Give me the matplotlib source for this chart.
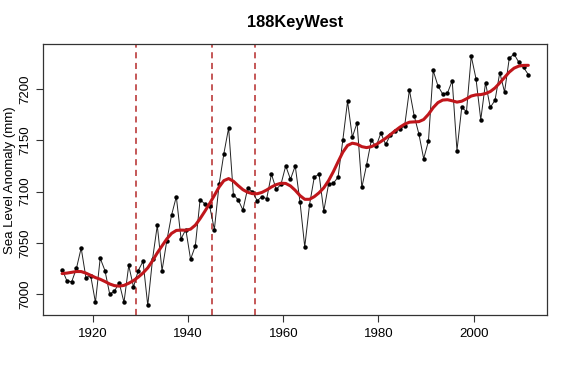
import numpy as np
import matplotlib
matplotlib.use("Agg")
import matplotlib.pyplot as plt

plt.rcParams['font.family'] = ['Liberation Sans', 'DejaVu Sans']

years = list(range(1913, 2012))
sea_level = [
    7024, 7013, 7012, 7025, 7045, 7016, 7018, 6992, 7035, 7023,
    7000, 7003, 7011, 6992, 7028, 7007, 7023, 7032, 6989, 7034,
    7067, 7023, 7052, 7077, 7095, 7054, 7063, 7034, 7047, 7092,
    7088, 7086, 7063, 7107, 7137, 7162, 7097, 7092, 7082, 7103,
    7100, 7091, 7095, 7093, 7117, 7102, 7107, 7125, 7112, 7125,
    7090, 7046, 7087, 7114, 7117, 7081, 7107, 7108, 7114, 7150,
    7188, 7153, 7167, 7104, 7126, 7150, 7144, 7157, 7146, 7155,
    7159, 7161, 7164, 7199, 7174, 7156, 7132, 7149, 7218, 7203,
    7195, 7196, 7208, 7140, 7182, 7178, 7232, 7210, 7170, 7206,
    7182, 7189, 7216, 7197, 7230, 7234, 7226, 7221, 7214,
]
breakpoints = [1929, 1945, 1954]
x_ticks = [1920, 1940, 1960, 1980, 2000]
y_ticks = [7000, 7050, 7100, 7150, 7200]
title = "188KeyWest"
ylabel = "Sea Level Anomaly (mm)"

t = np.array(years, dtype=float) + 0.5
y = np.array(sea_level, dtype=float)

# Whittaker (penalised) smoother of the series
n = len(y)
D = np.diff(np.eye(n), 2, axis=0)
lam = 15.0
smooth = np.linalg.solve(np.eye(n) + lam * D.T @ D, y)

fig = plt.figure(figsize=(5.70, 3.68), dpi=100)
ax = fig.add_axes([0.0763, 0.1427, 0.8833, 0.7377])

ax.plot(t, y, color='#222222', lw=0.7, zorder=2)
ax.plot(t, y, 'o', color='black', ms=2.2, zorder=3)
ax.plot(t, smooth, color='#c0161b', lw=2.2, zorder=4, solid_capstyle='round')
for b in breakpoints:
    ax.axvline(b, color='#b52a2a', lw=1.1, ls=(0, (4, 3)), zorder=1)

ax.margins(x=0.04, y=0.04)
ax.set_xticks(x_ticks)
ax.set_yticks(y_ticks)
ax.set_xticklabels([str(v) for v in x_ticks], fontsize=9.5)
ax.set_yticklabels([str(v) for v in y_ticks], fontsize=9.5, rotation=90, va='center')
ax.tick_params(direction='out', length=5, width=0.8, color='#333333', pad=4)
for s in ax.spines.values():
    s.set_color('#333333')
    s.set_linewidth(0.9)

ax.set_ylabel(ylabel, fontsize=9.5)
ax.yaxis.set_label_coords(-0.055, 0.5)
ax.set_title(title, fontsize=11.8, fontweight='bold', pad=12)

fig.savefig("out.png", dpi=100)
